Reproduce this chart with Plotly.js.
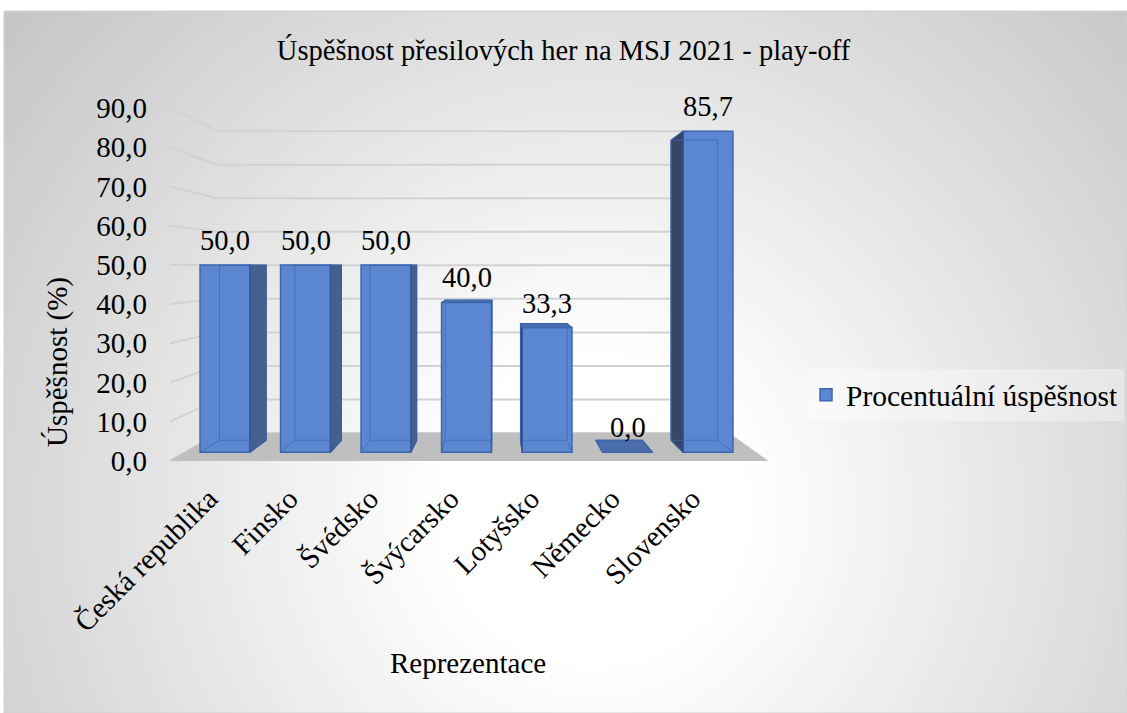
<!DOCTYPE html>
<html>
<head>
<meta charset="utf-8">
<script src="https://cdn.plot.ly/plotly-3.0.1.min.js"></script>
<style>html,body{margin:0;padding:0;background:#fff;}#chart{width:1127px;height:713px;}</style>
</head>
<body>
<div id="chart"></div>
<script>
// ---- data ----
const categories = ['Česká republika', 'Finsko', 'Švédsko', 'Švýcarsko', 'Lotyšsko', 'Německo', 'Slovensko'];
const values = [50.0, 50.0, 50.0, 40.0, 33.3, 0.0, 85.7];
const yTickValues = [0, 10, 20, 30, 40, 50, 60, 70, 80, 90];
const seriesName = 'Procentuální úspěšnost';
const chartTitle = 'Úspěšnost přesilových her na MSJ 2021 - play-off';
const xTitle = 'Reprezentace';
const yTitle = 'Úspěšnost (%)';

// ---- layout geometry (pixels) ----
const W = 1127, H = 713;
const X0PX = 225, XSTEP = 80.5;       // first category centre, category spacing
const Y0PX = 452.25, YSCALE = 3.745;  // value 0 on front bar plane, px per unit
const plotL = 150, plotR = 790, plotT = 95, plotB = 475;
const xRange = [(plotL - X0PX) / XSTEP, (plotR - X0PX) / XSTEP];
const yRange = [(Y0PX - plotB) / YSCALE, (Y0PX - plotT) / YSCALE];
const xDomain = [plotL / W, plotR / W];
const yDomain = [1 - plotB / H, 1 - plotT / H];

// simple perspective: vanishing point (XV, HV) in front-plane data units
const XV = 3.4, HV = 49.2;
const Z_BAR = 0.065, Z_FRONT = -0.047, Z_WALL = 0.1045;
const FLOOR_L = -0.5, FLOOR_R = 6.6;
const BAR_W = 0.62;
function proj(xi, v, z) {
  const d = 1 - z;
  return [XV + (xi - XV) * d, HV + (v - HV) * d];
}
const dLabel = 1 - Z_FRONT;
const y2Range = [HV + (yRange[0] - HV) / dLabel, HV + (yRange[1] - HV) / dLabel];

const FONT = 'Liberation Serif';
const FS = 29;
const fmt = v => v.toFixed(1).replace('.', ',');

// ---- base subplot: gridlines + floor ----
const gx = [], gy = [];
yTickValues.forEach(v => {
  [[FLOOR_L, v, Z_FRONT], [FLOOR_L, v, Z_WALL], [FLOOR_R, v, Z_WALL]].forEach(p => {
    const q = proj(p[0], p[1], p[2]); gx.push(q[0]); gy.push(q[1]);
  });
  gx.push(null); gy.push(null);
});
const floorPts = [[FLOOR_L, 0, Z_FRONT], [FLOOR_R, 0, Z_FRONT], [FLOOR_R, 0, Z_WALL], [FLOOR_L, 0, Z_WALL]].map(p => proj(p[0], p[1], p[2]));

const traces = [];
traces.push({type: 'scatter', mode: 'lines', x: gx, y: gy, xaxis: 'x', yaxis: 'y',
  line: {color: '#d2d2d2', width: 2}, showlegend: false, hoverinfo: 'skip'});
traces.push({type: 'scatter', mode: 'lines', x: floorPts.map(p => p[0]), y: floorPts.map(p => p[1]),
  xaxis: 'x', yaxis: 'y', fill: 'toself', fillcolor: '#bfbfbf', line: {width: 0, color: '#bfbfbf'},
  showlegend: false, hoverinfo: 'skip'});
// value axis (front edge of the floor) – carries the tick labels
traces.push({type: 'scatter', mode: 'none', x: [null], y: [null], xaxis: 'x', yaxis: 'y2',
  showlegend: false, hoverinfo: 'skip'});

// ---- overlay subplot: bars ----
const idx = categories.map((c, i) => i);
traces.push({type: 'bar', x: idx, y: values, width: BAR_W, name: seriesName,
  xaxis: 'x2', yaxis: 'y3',
  marker: {color: '#5b87d0', line: {color: '#3d66b0', width: 1.5}}, hoverinfo: 'skip'});

const sRx = [], sRy = [], sLx = [], sLy = [], tx = [], ty = [], ex = [], ey = [];
function addPoly(ax, ay, pts) {
  pts.forEach(p => { const q = proj(p[0], p[1], p[2]); ax.push(q[0]); ay.push(q[1]); });
  const q = proj(pts[0][0], pts[0][1], pts[0][2]); ax.push(q[0]); ay.push(q[1]);
  ax.push(null); ay.push(null);
}
function addLine(ax, ay, pts) {
  pts.forEach(p => { const q = proj(p[0], p[1], p[2]); ax.push(q[0]); ay.push(q[1]); });
  ax.push(null); ay.push(null);
}
values.forEach((v, i) => {
  const l = i - BAR_W / 2, r = i + BAR_W / 2;
  if (i < XV) {
    addPoly(sRx, sRy, [[r, 0, 0], [r, v, 0], [r, v, Z_BAR], [r, 0, Z_BAR]]);
  } else {
    addPoly(sLx, sLy, [[l, 0, 0], [l, v, 0], [l, v, Z_BAR], [l, 0, Z_BAR]]);
  }
  if (v < HV) {
    addPoly(tx, ty, [[l, v, 0], [r, v, 0], [r, v, Z_BAR], [l, v, Z_BAR]]);
  }
  addLine(ex, ey, [[l, 0, 0], [l, 0, Z_BAR], [r, 0, Z_BAR], [r, 0, 0]]);
  addLine(ex, ey, [[l, 0, Z_BAR], [l, v, Z_BAR], [r, v, Z_BAR], [r, 0, Z_BAR]]);
});
traces.push({type: 'scatter', mode: 'lines', x: sRx, y: sRy, xaxis: 'x2', yaxis: 'y3', fill: 'toself',
  fillcolor: '#47618f', line: {color: '#34558f', width: 1.2}, showlegend: false, hoverinfo: 'skip'});
traces.push({type: 'scatter', mode: 'lines', x: sLx, y: sLy, xaxis: 'x2', yaxis: 'y3', fill: 'toself',
  fillcolor: '#364666', line: {color: '#2f4f8a', width: 1.2}, showlegend: false, hoverinfo: 'skip'});
traces.push({type: 'scatter', mode: 'lines', x: tx, y: ty, xaxis: 'x2', yaxis: 'y3', fill: 'toself',
  fillcolor: '#4a6cab', line: {color: '#3d66b0', width: 1.2}, showlegend: false, hoverinfo: 'skip'});
traces.push({type: 'scatter', mode: 'lines', x: ex, y: ey, xaxis: 'x2', yaxis: 'y3',
  line: {color: 'rgba(61,102,176,0.75)', width: 1}, showlegend: false, hoverinfo: 'skip'});

// ---- data labels & axis titles ----
const annotations = values.map((v, i) => ({
  x: i, y: v, xref: 'x2', yref: 'y3', text: fmt(v), showarrow: false,
  yanchor: 'bottom', yshift: 7, font: {family: FONT, size: 28.5, color: '#000'}
}));
annotations.push({x: 468 / W, y: 1 - 663 / H, xref: 'paper', yref: 'paper', text: xTitle, showarrow: false,
  xanchor: 'center', yanchor: 'middle', font: {family: FONT, size: FS, color: '#000'}});
annotations.push({x: 57 / W, y: 1 - 362 / H, xref: 'paper', yref: 'paper', text: yTitle, showarrow: false,
  textangle: -90, xanchor: 'center', yanchor: 'middle', font: {family: FONT, size: FS, color: '#000'}});

// ---- background ----
const svg = "<svg xmlns='http://www.w3.org/2000/svg' width='1123' height='702' viewBox='0 0 1123 702' preserveAspectRatio='none'>" +
  "<defs><radialGradient id='g' gradientUnits='userSpaceOnUse' cx='590' cy='500' r='760'>" +
  "<stop offset='0' stop-color='#ffffff'/><stop offset='0.2' stop-color='#ffffff'/><stop offset='1' stop-color='#c6c6c6'/>" +
  "</radialGradient></defs><rect width='1123' height='702' fill='url(#g)'/></svg>";
const bgUri = 'data:image/svg+xml;charset=utf-8,' + encodeURIComponent(svg);

const axisHidden = {showgrid: false, zeroline: false, showline: false, showticklabels: false, ticks: ''};

const layout = {
  width: W, height: H,
  margin: {l: 0, r: 0, t: 0, b: 0},
  paper_bgcolor: '#ffffff', plot_bgcolor: 'rgba(0,0,0,0)',
  separators: ', ',
  font: {family: FONT, size: FS, color: '#000'},
  title: {text: chartTitle, x: 0.5, xanchor: 'center', y: 1 - 50 / H, yanchor: 'middle',
    font: {family: FONT, size: 28.5, color: '#000'}},
  showlegend: true,
  legend: {x: 806 / W, y: 1 - 395 / H, xanchor: 'left', yanchor: 'middle',
    bgcolor: 'rgba(255,255,255,0.35)', font: {family: FONT, size: 29.5, color: '#000'}},
  xaxis: Object.assign({}, axisHidden, {domain: xDomain, range: xRange, anchor: 'y',
    showticklabels: true, tickmode: 'array', tickvals: idx, ticktext: categories, tickangle: -45,
    ticklabelshift: -16, tickfont: {family: FONT, size: FS, color: '#000'}}),
  yaxis: Object.assign({}, axisHidden, {domain: yDomain, range: yRange, anchor: 'x'}),
  yaxis2: Object.assign({}, axisHidden, {overlaying: 'y', anchor: 'free', position: 147 / W, side: 'left',
    range: y2Range, showticklabels: true, tickmode: 'array', tickvals: yTickValues, tickformat: '.1f',
    tickfont: {family: FONT, size: FS, color: '#000'}}),
  xaxis2: Object.assign({}, axisHidden, {overlaying: 'x', range: xRange, anchor: 'y3'}),
  yaxis3: Object.assign({}, axisHidden, {overlaying: 'y', range: yRange, anchor: 'x2'}),
  images: [{source: bgUri, xref: 'paper', yref: 'paper', x: 4 / W, y: 1 - 11 / H,
    sizex: (W - 4) / W, sizey: (H - 11) / H, sizing: 'stretch', xanchor: 'left', yanchor: 'top', layer: 'below'}],
  shapes: [{type: 'rect', xref: 'paper', yref: 'paper', x0: 4 / W, x1: 1, y0: 0, y1: 1 - 11 / H,
    line: {color: '#d0d0d0', width: 1}, layer: 'above'}],
  annotations: annotations
};

Plotly.newPlot('chart', traces, layout, {displayModeBar: false, staticPlot: true});
</script>
</body>
</html>
